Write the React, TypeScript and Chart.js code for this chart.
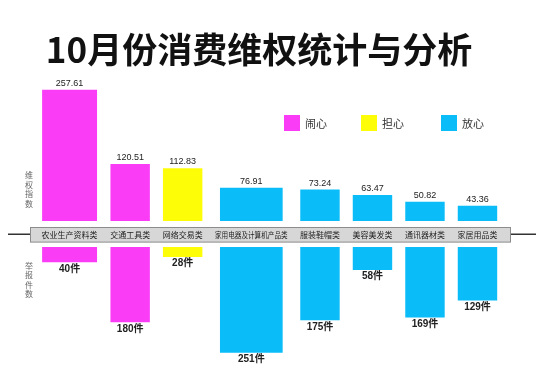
import React, { useEffect, useRef } from 'react';
import { Chart, registerables } from 'chart.js';

Chart.register(...registerables);

// ---- data ----
const TITLE = '10月份消费维权统计与分析';
const CATEGORIES = [
  '农业生产资料类',
  '交通工具类',
  '网络交易类',
  '家用电器及计算机产品类',
  '服装鞋帽类',
  '美容美发类',
  '通讯器材类',
  '家居用品类',
];
const RIGHTS_INDEX = [257.61, 120.51, 112.83, 76.91, 73.24, 63.47, 50.82, 43.36];
const COMPLAINTS = [40, 180, 28, 251, 175, 58, 169, 129];
const MOOD = ['闹心', '闹心', '担心', '放心', '放心', '放心', '放心', '放心'];
const LEGEND_ITEMS = ['闹心', '担心', '放心'];
const UPPER_AXIS_LABEL = '维权指数';
const LOWER_AXIS_LABEL = '举报件数';
const COUNT_UNIT = '件';

// ---- styles / layout ----
const MOOD_COLORS: Record<string, string> = {
  闹心: '#fa3cf7',
  担心: '#fdfd08',
  放心: '#0abdf8',
};
const UP_BASE = 16.5;
const LOW_BASE = 6;
const GAP = 1.5; // gap between slots, in character units
const MAX_SLOT = 9;
const MAX_BAR = 8;
const X_MIN = -0.65;
const X_MAX = 58.9;
const PAD = { left: 30, right: 39, top: 80, bottom: 14 };
const CANVAS_W = 550;
const CANVAS_H = 374;
const CJK = '"Noto Sans CJK SC"';
const LATIN = '"Liberation Sans"';

// slot centres derived from label lengths
const slotLen = CATEGORIES.map((c) => Math.min(c.length, MAX_SLOT));
const centers: number[] = [];
{
  let acc = 0;
  slotLen.forEach((l) => {
    centers.push(acc + GAP / 2 + l / 2);
    acc += l + GAP;
  });
}
const pxPerUnit = (CANVAS_W - PAD.left - PAD.right) / (X_MAX - X_MIN);
const barWidths = CATEGORIES.map((c) => Math.min(c.length, MAX_BAR) * pxPerUnit * 0.96);

const overlay = {
  id: 'overlay',
  afterDatasetsDraw(chart: any) {
    const ctx = chart.ctx;
    const area = chart.chartArea;
    const yUp = chart.scales.y;
    const yLow = chart.scales.y2;
    const upBase = yUp.getPixelForValue(UP_BASE);
    const lowBase = yLow.getPixelForValue(LOW_BASE);
    const mid = (upBase + lowBase) / 2 + 0.8;
    ctx.save();

    // title
    ctx.fillStyle = '#111';
    ctx.font = `bold 35px ${CJK}`;
    ctx.textAlign = 'center';
    ctx.textBaseline = 'middle';
    ctx.fillText(TITLE, 259, 50);

    // legend
    const legendX = [284, 361, 441];
    LEGEND_ITEMS.forEach((m, i) => {
      ctx.fillStyle = MOOD_COLORS[m];
      ctx.fillRect(legendX[i], 115, 16, 16);
      ctx.fillStyle = '#333';
      ctx.font = `11px ${CJK}`;
      ctx.textAlign = 'left';
      ctx.textBaseline = 'middle';
      ctx.fillText(m, legendX[i] + 21, 123.5);
    });

    // horizontal line & band
    ctx.strokeStyle = '#333';
    ctx.lineWidth = 1.5;
    ctx.beginPath();
    ctx.moveTo(8, mid - 0.5);
    ctx.lineTo(area.left, mid - 0.5);
    ctx.moveTo(area.right, mid - 0.5);
    ctx.lineTo(536, mid - 0.5);
    ctx.stroke();
    ctx.fillStyle = '#d7d7d7';
    ctx.strokeStyle = '#8c8c8c';
    ctx.lineWidth = 1;
    ctx.fillRect(area.left, mid - 7.3, area.right - area.left, 14.6);
    ctx.strokeRect(area.left + 0.5, mid - 7.3, area.right - area.left - 1, 14.6);

    // category labels, value labels
    CATEGORIES.forEach((c, i) => {
      const up = chart.getDatasetMeta(i * 2).data[0];
      const low = chart.getDatasetMeta(i * 2 + 1).data[0];
      if (!up || !low) return;
      ctx.fillStyle = '#222';
      ctx.font = `8px ${CJK}`;
      ctx.textAlign = 'center';
      ctx.textBaseline = 'middle';
      ctx.fillText(c, up.x, mid + 0.5, slotLen[i] * pxPerUnit);

      ctx.fillStyle = '#222';
      ctx.font = `9px ${LATIN}`;
      ctx.textBaseline = 'bottom';
      ctx.fillText(RIGHTS_INDEX[i].toFixed(2), up.x, up.y - 2);

      ctx.font = `bold 10px ${LATIN}, ${CJK}`;
      ctx.textBaseline = 'top';
      ctx.fillText(`${COMPLAINTS[i]}${COUNT_UNIT}`, low.x, low.y + 2);
    });

    // vertical axis labels
    ctx.fillStyle = '#666';
    ctx.font = `8px ${CJK}`;
    ctx.textAlign = 'center';
    ctx.textBaseline = 'middle';
    [...UPPER_AXIS_LABEL].forEach((ch, k) => ctx.fillText(ch, 29, 175 + k * 9.5));
    [...LOWER_AXIS_LABEL].forEach((ch, k) => ctx.fillText(ch, 29, 265.5 + k * 9.5));

    ctx.restore();
  },
};

export default function App() {
  const ref = useRef<HTMLCanvasElement | null>(null);
  useEffect(() => {
    if (!ref.current) return;
    const datasets: any[] = [];
    CATEGORIES.forEach((c, i) => {
      const color = MOOD_COLORS[MOOD[i]];
      datasets.push({
        label: c,
        data: [{ x: centers[i], y: RIGHTS_INDEX[i] }],
        yAxisID: 'y',
        base: UP_BASE,
        backgroundColor: color,
        barThickness: barWidths[i],
      });
      datasets.push({
        label: c,
        data: [{ x: centers[i], y: COMPLAINTS[i] }],
        yAxisID: 'y2',
        base: LOW_BASE,
        backgroundColor: color,
        barThickness: barWidths[i],
      });
    });
    const chart = new Chart(ref.current, {
      type: 'bar',
      data: { datasets },
      options: {
        animation: false,
        responsive: true,
        maintainAspectRatio: false,
        layout: { padding: PAD },
        plugins: { legend: { display: false }, title: { display: false }, tooltip: { enabled: false } },
        scales: {
          x: { type: 'linear', min: X_MIN, max: X_MAX, stacked: true, offset: false, display: false },
          y: { type: 'linear', min: -240.5, max: 276.1, display: false },
          y2: { type: 'linear', min: -383.7, max: 268.5, reverse: true, display: false },
        },
      },
      plugins: [overlay],
    });
    return () => chart.destroy();
  }, []);
  return (
    <div style={{ position: 'fixed', left: 0, top: 0, width: CANVAS_W, height: CANVAS_H, background: '#fff' }}>
      <canvas ref={ref} />
    </div>
  );
}
